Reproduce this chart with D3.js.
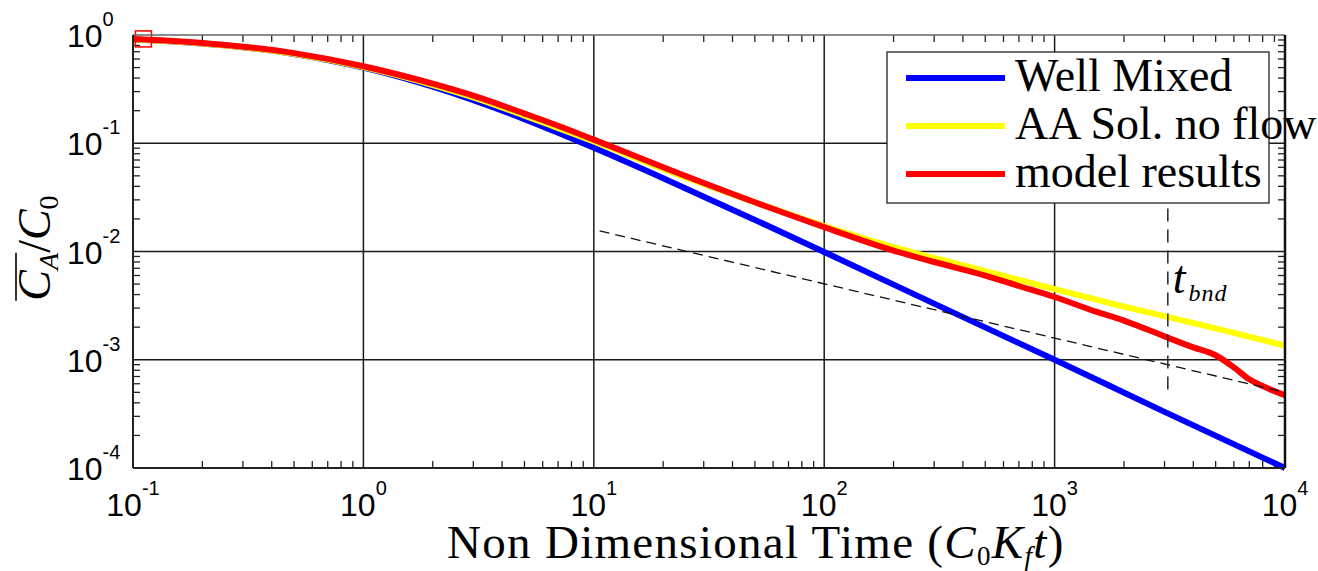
<!DOCTYPE html>
<html>
<head>
<meta charset="utf-8">
<script src="https://cdn.jsdelivr.net/npm/d3@7"></script>
<style>
  body { margin: 0; background: #fff; }
  svg { display: block; }
</style>
</head>
<body>
<div id="chart"></div>
<script>
// values: [time, C/C0]
var wellMixed = [
  [0.1, 0.909], [0.15, 0.87], [0.2, 0.833], [0.3, 0.769], [0.5, 0.667], [0.7, 0.588],
  [1, 0.5], [1.5, 0.4], [2, 0.333], [3, 0.25], [5, 0.167], [7, 0.125],
  [10, 0.0909], [20, 0.0476], [50, 0.0196], [100, 0.0099], [300, 0.0033],
  [1000, 0.001], [3000, 0.00033], [10000, 0.0001]
];
var aaNoFlow = [
  [0.1, 0.91], [0.2, 0.836], [0.5, 0.67], [1, 0.505], [2, 0.345], [3, 0.265],
  [5, 0.18], [7, 0.138], [10, 0.104], [20, 0.058], [50, 0.0285], [100, 0.0172],
  [200, 0.011], [500, 0.0066], [1000, 0.0045], [2000, 0.0031], [5000, 0.00195],
  [10000, 0.00135]
];
var modelResults = [
  [0.1, 0.92], [0.2, 0.845], [0.5, 0.68], [1, 0.515], [2, 0.355], [3, 0.275],
  [5, 0.188], [7, 0.145], [10, 0.108], [20, 0.06], [50, 0.0285], [100, 0.0168],
  [200, 0.0102], [300, 0.008], [500, 0.006], [700, 0.0048], [1000, 0.0038],
  [1500, 0.0028], [2000, 0.0023], [3100, 0.0016], [4000, 0.0013], [5000, 0.0011],
  [6000, 0.00085], [7000, 0.00066], [8500, 0.00054], [10000, 0.00047]
];
var modelStart = [[0.111, 0.92]];
var slopeLine = [[10.6, 0.0155], [10000, 0.0005]];
var tBnd = [[3100, 0.025], [3100, 0.00048]];

var xDecades = [-1, 0, 1, 2, 3, 4];
var yDecades = [0, -1, -2, -3, -4];
var legendNames = ["Well Mixed", "AA Sol. no flow", "model results"];
var legendColors = ["#0000ff", "#ffff00", "#ff0000"];

var width = 1318, height = 571;
var pL = 133, pR = 1285, pT = 35, pB = 468;

var svg = d3.select("#chart").append("svg")
  .attr("width", width).attr("height", height);

var x = d3.scaleLog().domain([0.1, 10000]).range([pL, pR]);
var y = d3.scaleLog().domain([0.0001, 1]).range([pB, pT]);

// grid at decades
svg.append("g").selectAll("line")
  .data(xDecades.slice(1, -1))
  .enter().append("line")
  .attr("x1", function(d) { return x(Math.pow(10, d)); })
  .attr("x2", function(d) { return x(Math.pow(10, d)); })
  .attr("y1", pT).attr("y2", pB)
  .attr("stroke", "#1a1a1a").attr("stroke-width", 1.5);
svg.append("g").selectAll("line")
  .data(yDecades.slice(1, -1))
  .enter().append("line")
  .attr("y1", function(d) { return y(Math.pow(10, d)); })
  .attr("y2", function(d) { return y(Math.pow(10, d)); })
  .attr("x1", pL).attr("x2", pR)
  .attr("stroke", "#1a1a1a").attr("stroke-width", 1.5);

// minor ticks (inside, all four sides)
var xMinor = [], yMinor = [];
xDecades.slice(0, -1).forEach(function(e) {
  for (var k = 2; k <= 9; k++) xMinor.push(k * Math.pow(10, e));
});
yDecades.slice(1).forEach(function(e) {
  for (var k = 2; k <= 9; k++) yMinor.push(k * Math.pow(10, e));
});
var tickLen = 7;
var ticks = svg.append("g").attr("stroke", "#222").attr("stroke-width", 1.3);
xMinor.forEach(function(v) {
  ticks.append("line").attr("x1", x(v)).attr("x2", x(v)).attr("y1", pB).attr("y2", pB - tickLen);
  ticks.append("line").attr("x1", x(v)).attr("x2", x(v)).attr("y1", pT).attr("y2", pT + tickLen);
});
yMinor.forEach(function(v) {
  ticks.append("line").attr("y1", y(v)).attr("y2", y(v)).attr("x1", pL).attr("x2", pL + tickLen);
  ticks.append("line").attr("y1", y(v)).attr("y2", y(v)).attr("x1", pR).attr("x2", pR - tickLen);
});

// curves
var line = d3.line()
  .x(function(d) { return x(d[0]); })
  .y(function(d) { return y(d[1]); })
  .curve(d3.curveMonotoneX);

[wellMixed, aaNoFlow, modelResults].forEach(function(s, i) {
  svg.append("path")
    .datum(s)
    .attr("d", line)
    .attr("fill", "none")
    .attr("stroke", legendColors[i])
    .attr("stroke-width", 6);
});

svg.selectAll(".marker")
  .data(modelStart)
  .enter().append("rect")
  .attr("class", "marker")
  .attr("x", function(d) { return x(d[0]) - 8; })
  .attr("y", function(d) { return y(d[1]) - 8; })
  .attr("width", 16).attr("height", 16)
  .attr("fill", "none").attr("stroke", "#ff0000").attr("stroke-width", 1.5);

var straight = d3.line()
  .x(function(d) { return x(d[0]); })
  .y(function(d) { return y(d[1]); });

svg.append("path").datum(slopeLine).attr("d", straight)
  .attr("fill", "none").attr("stroke", "#111").attr("stroke-width", 1.3)
  .attr("stroke-dasharray", "10,6");
svg.append("path").datum(tBnd).attr("d", straight)
  .attr("fill", "none").attr("stroke", "#333").attr("stroke-width", 1.6)
  .attr("stroke-dasharray", "13,8");

// axes frame
svg.append("line").attr("x1", pL).attr("x2", pR).attr("y1", pT).attr("y2", pT)
  .attr("stroke", "#666").attr("stroke-width", 1.5);
svg.append("line").attr("x1", pL).attr("x2", pR).attr("y1", pB).attr("y2", pB)
  .attr("stroke", "#222").attr("stroke-width", 2);
svg.append("line").attr("x1", pL).attr("x2", pL).attr("y1", pT).attr("y2", pB)
  .attr("stroke", "#222").attr("stroke-width", 2);
svg.append("line").attr("x1", pR).attr("x2", pR).attr("y1", pT).attr("y2", pB)
  .attr("stroke", "#111").attr("stroke-width", 2.5);

// tick labels
var sans = "'Liberation Sans', Arial, Helvetica, sans-serif";
var xl = svg.append("g").selectAll("text")
  .data(xDecades).enter().append("text")
  .attr("x", function(d) { return x(Math.pow(10, d)); })
  .attr("y", pB + 48)
  .attr("text-anchor", "middle")
  .attr("font-family", sans).attr("font-size", 32).attr("fill", "#000");
xl.append("tspan").text("10");
xl.append("tspan").attr("dy", -21).attr("font-size", 20).text(function(d) { return d; });

var yl = svg.append("g").selectAll("text")
  .data(yDecades).enter().append("text")
  .attr("x", 67)
  .attr("y", function(d) { return y(Math.pow(10, d)) + 12; })
  .attr("font-family", sans).attr("font-size", 32).attr("fill", "#000");
yl.append("tspan").text("10");
yl.append("tspan").attr("dy", -21).attr("font-size", 20).text(function(d) { return d; });

// axis titles
var serif = "'Liberation Serif', 'Times New Roman', serif";
var xt = svg.append("text")
  .attr("x", 447).attr("y", 558)
  .attr("font-family", serif).attr("font-size", 47).attr("fill", "#000")
  .attr("letter-spacing", 1.3);
xt.append("tspan").text("Non Dimensional Time (");
xt.append("tspan").attr("font-style", "italic").text("C");
xt.append("tspan").attr("font-size", 27).attr("dy", 7).text("0");
xt.append("tspan").attr("font-style", "italic").attr("dy", -7).text("K");
xt.append("tspan").attr("font-style", "italic").attr("font-size", 27).attr("dy", 7).text("f");
xt.append("tspan").attr("font-style", "italic").attr("dy", -7).text("t");
xt.append("tspan").text(")");

var yg = svg.append("g").attr("transform", "translate(50,248) rotate(-90)");
var ytxt = yg.append("text")
  .attr("text-anchor", "middle")
  .attr("font-family", serif).attr("font-size", 46).attr("fill", "#000");
ytxt.append("tspan").attr("font-style", "italic").text("C");
ytxt.append("tspan").attr("font-style", "italic").attr("font-size", 28).attr("dy", 8).text("A");
ytxt.append("tspan").attr("dy", -8).text("/");
ytxt.append("tspan").attr("font-style", "italic").text("C");
ytxt.append("tspan").attr("font-size", 28).attr("dy", 8).text("0");
var bb = ytxt.node().getBBox();
var caWidth = ytxt.node().getSubStringLength(0, 2);
yg.append("line")
  .attr("x1", bb.x).attr("x2", bb.x + caWidth)
  .attr("y1", -34).attr("y2", -34)
  .attr("stroke", "#000").attr("stroke-width", 1.6);

// t_bnd label
var tb = svg.append("text")
  .attr("x", x(tBnd[0][0]) + 5).attr("y", y(0.0041))
  .attr("font-family", serif).attr("font-style", "italic").attr("font-size", 46).attr("fill", "#000");
tb.append("tspan").text("t");
tb.append("tspan").attr("font-size", 24).attr("dy", 8).attr("dx", 3).attr("letter-spacing", 1).text("bnd");

// legend
var lg = svg.append("g");
lg.append("rect").attr("x", 887).attr("y", 52).attr("width", 382).attr("height", 151)
  .attr("fill", "#fff").attr("stroke", "#222").attr("stroke-width", 1.3);
var items = lg.selectAll(".item").data(legendNames).enter().append("g")
  .attr("transform", function(d, i) { return "translate(906," + (78 + i * 48) + ")"; });
items.append("line").attr("x1", 0).attr("x2", 99).attr("y1", 0).attr("y2", 0)
  .attr("stroke", function(d, i) { return legendColors[i]; }).attr("stroke-width", 6);
items.append("text").attr("x", 109).attr("y", 13)
  .attr("font-family", serif).attr("font-size", 46).attr("fill", "#000")
  .text(function(d) { return d; });
</script>
</body>
</html>
